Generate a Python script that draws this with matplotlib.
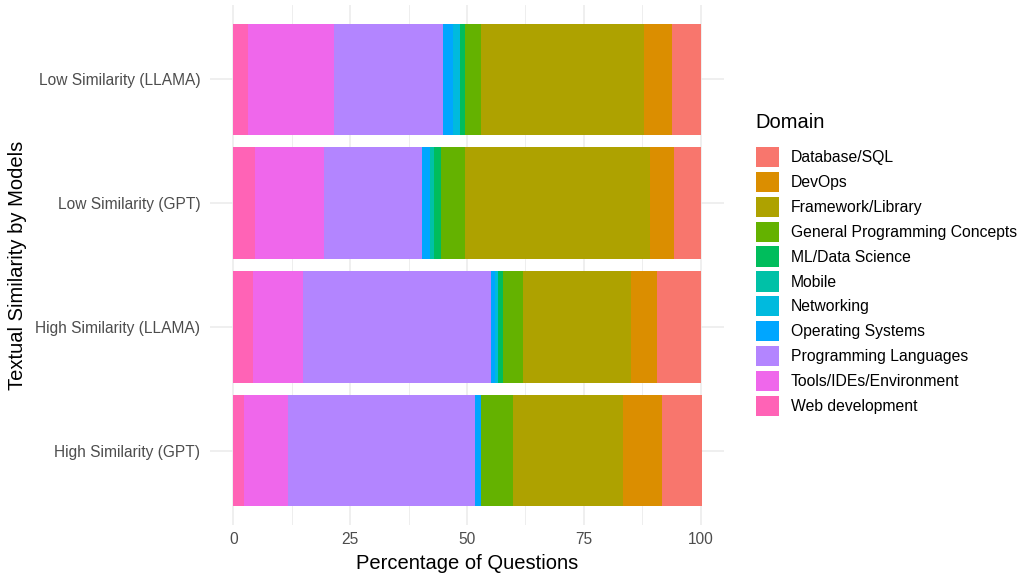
import numpy as np
import matplotlib
matplotlib.use("Agg")
import matplotlib.pyplot as plt
from matplotlib.patches import Patch
from matplotlib.ticker import MultipleLocator

plt.rcParams['font.family'] = ['Liberation Sans', 'DejaVu Sans']

# Categories (bottom to top)
groups = ["High Similarity (GPT)", "High Similarity (LLAMA)",
          "Low Similarity (GPT)", "Low Similarity (LLAMA)"]

# Domains in legend order
domains = ["Database/SQL", "DevOps", "Framework/Library", "General Programming Concepts",
           "ML/Data Science", "Mobile", "Networking", "Operating Systems",
           "Programming Languages", "Tools/IDEs/Environment", "Web development"]
colors = ["#F8766D", "#DB8E00", "#AEA200", "#64B200", "#00BD5C", "#00C1A7",
          "#00BADE", "#00A6FF", "#B385FF", "#EF67EB", "#FF63B6"]

# Percentages per domain, one value per group (same order as groups)
database_sql = [8.4, 9.4, 5.7, 6.2]
devops = [8.4, 5.7, 5.1, 5.9]
framework_library = [23.6, 23.0, 39.7, 34.8]
general_programming = [6.9, 4.3, 5.1, 3.6]
ml_data_science = [0.0, 1.0, 1.5, 1.1]
mobile = [0.0, 0.0, 0.9, 0.0]
networking = [0.0, 0.7, 0.0, 1.5]
operating_systems = [1.1, 0.9, 1.7, 2.1]
programming_languages = [40.2, 40.3, 20.8, 23.3]
tools_ides = [9.4, 10.5, 14.8, 18.3]
web_development = [2.2, 4.3, 4.7, 3.2]

values = [database_sql, devops, framework_library, general_programming,
          ml_data_science, mobile, networking, operating_systems,
          programming_languages, tools_ides, web_development]

fig = plt.figure(figsize=(10.19, 5.76), dpi=100)
ax = fig.add_axes([210 / 1019, 1 - 525 / 576, (724 - 210) / 1019, (525 - 5) / 576])

y = np.arange(len(groups))
left = np.zeros(len(groups))
# stack from the last domain (web development) on the left
for name, col, vals in reversed(list(zip(domains, colors, values))):
    vals = np.array(vals)
    ax.barh(y, vals, left=left, height=0.9, color=col, edgecolor='none', zorder=2)
    left += vals

ax.set_xlim(-5, 105)
ax.set_ylim(-0.6, len(groups) - 0.4)
ax.set_yticks(y)
ax.set_yticklabels(groups)
ax.xaxis.set_major_locator(MultipleLocator(25))
ax.xaxis.set_minor_locator(MultipleLocator(12.5))
ax.grid(True, which='major', color='#EBEBEB', lw=1.1, zorder=0)
ax.grid(True, which='minor', axis='x', color='#EBEBEB', lw=0.6, zorder=0)
for s in ax.spines.values():
    s.set_visible(False)
ax.tick_params(which='both', length=0, labelsize=11.2, labelcolor='#4D4D4D')
ax.tick_params(axis='y', pad=7)
ax.tick_params(axis='x', pad=5)
ax.set_xlabel("Percentage of Questions", fontsize=14.5, labelpad=5)
ax.set_ylabel("Textual Similarity by Models", fontsize=14.5, labelpad=6)

# legend: title as separate text, then the keys
fig.text(755 / 1019, 1 - 122 / 576, "Domain", fontsize=14.5, va='center', ha='left')
handles = [Patch(facecolor=c, edgecolor='none', label=d) for d, c in zip(domains, colors)]
fig.legend(handles=handles, loc='upper left',
           bbox_to_anchor=(745 / 1019, 1 - 136 / 576), frameon=False,
           fontsize=11.3, handlelength=1.45, handleheight=1.6,
           handletextpad=0.75, labelspacing=0.3, borderaxespad=0.3)

fig.savefig("out.png", dpi=100)
